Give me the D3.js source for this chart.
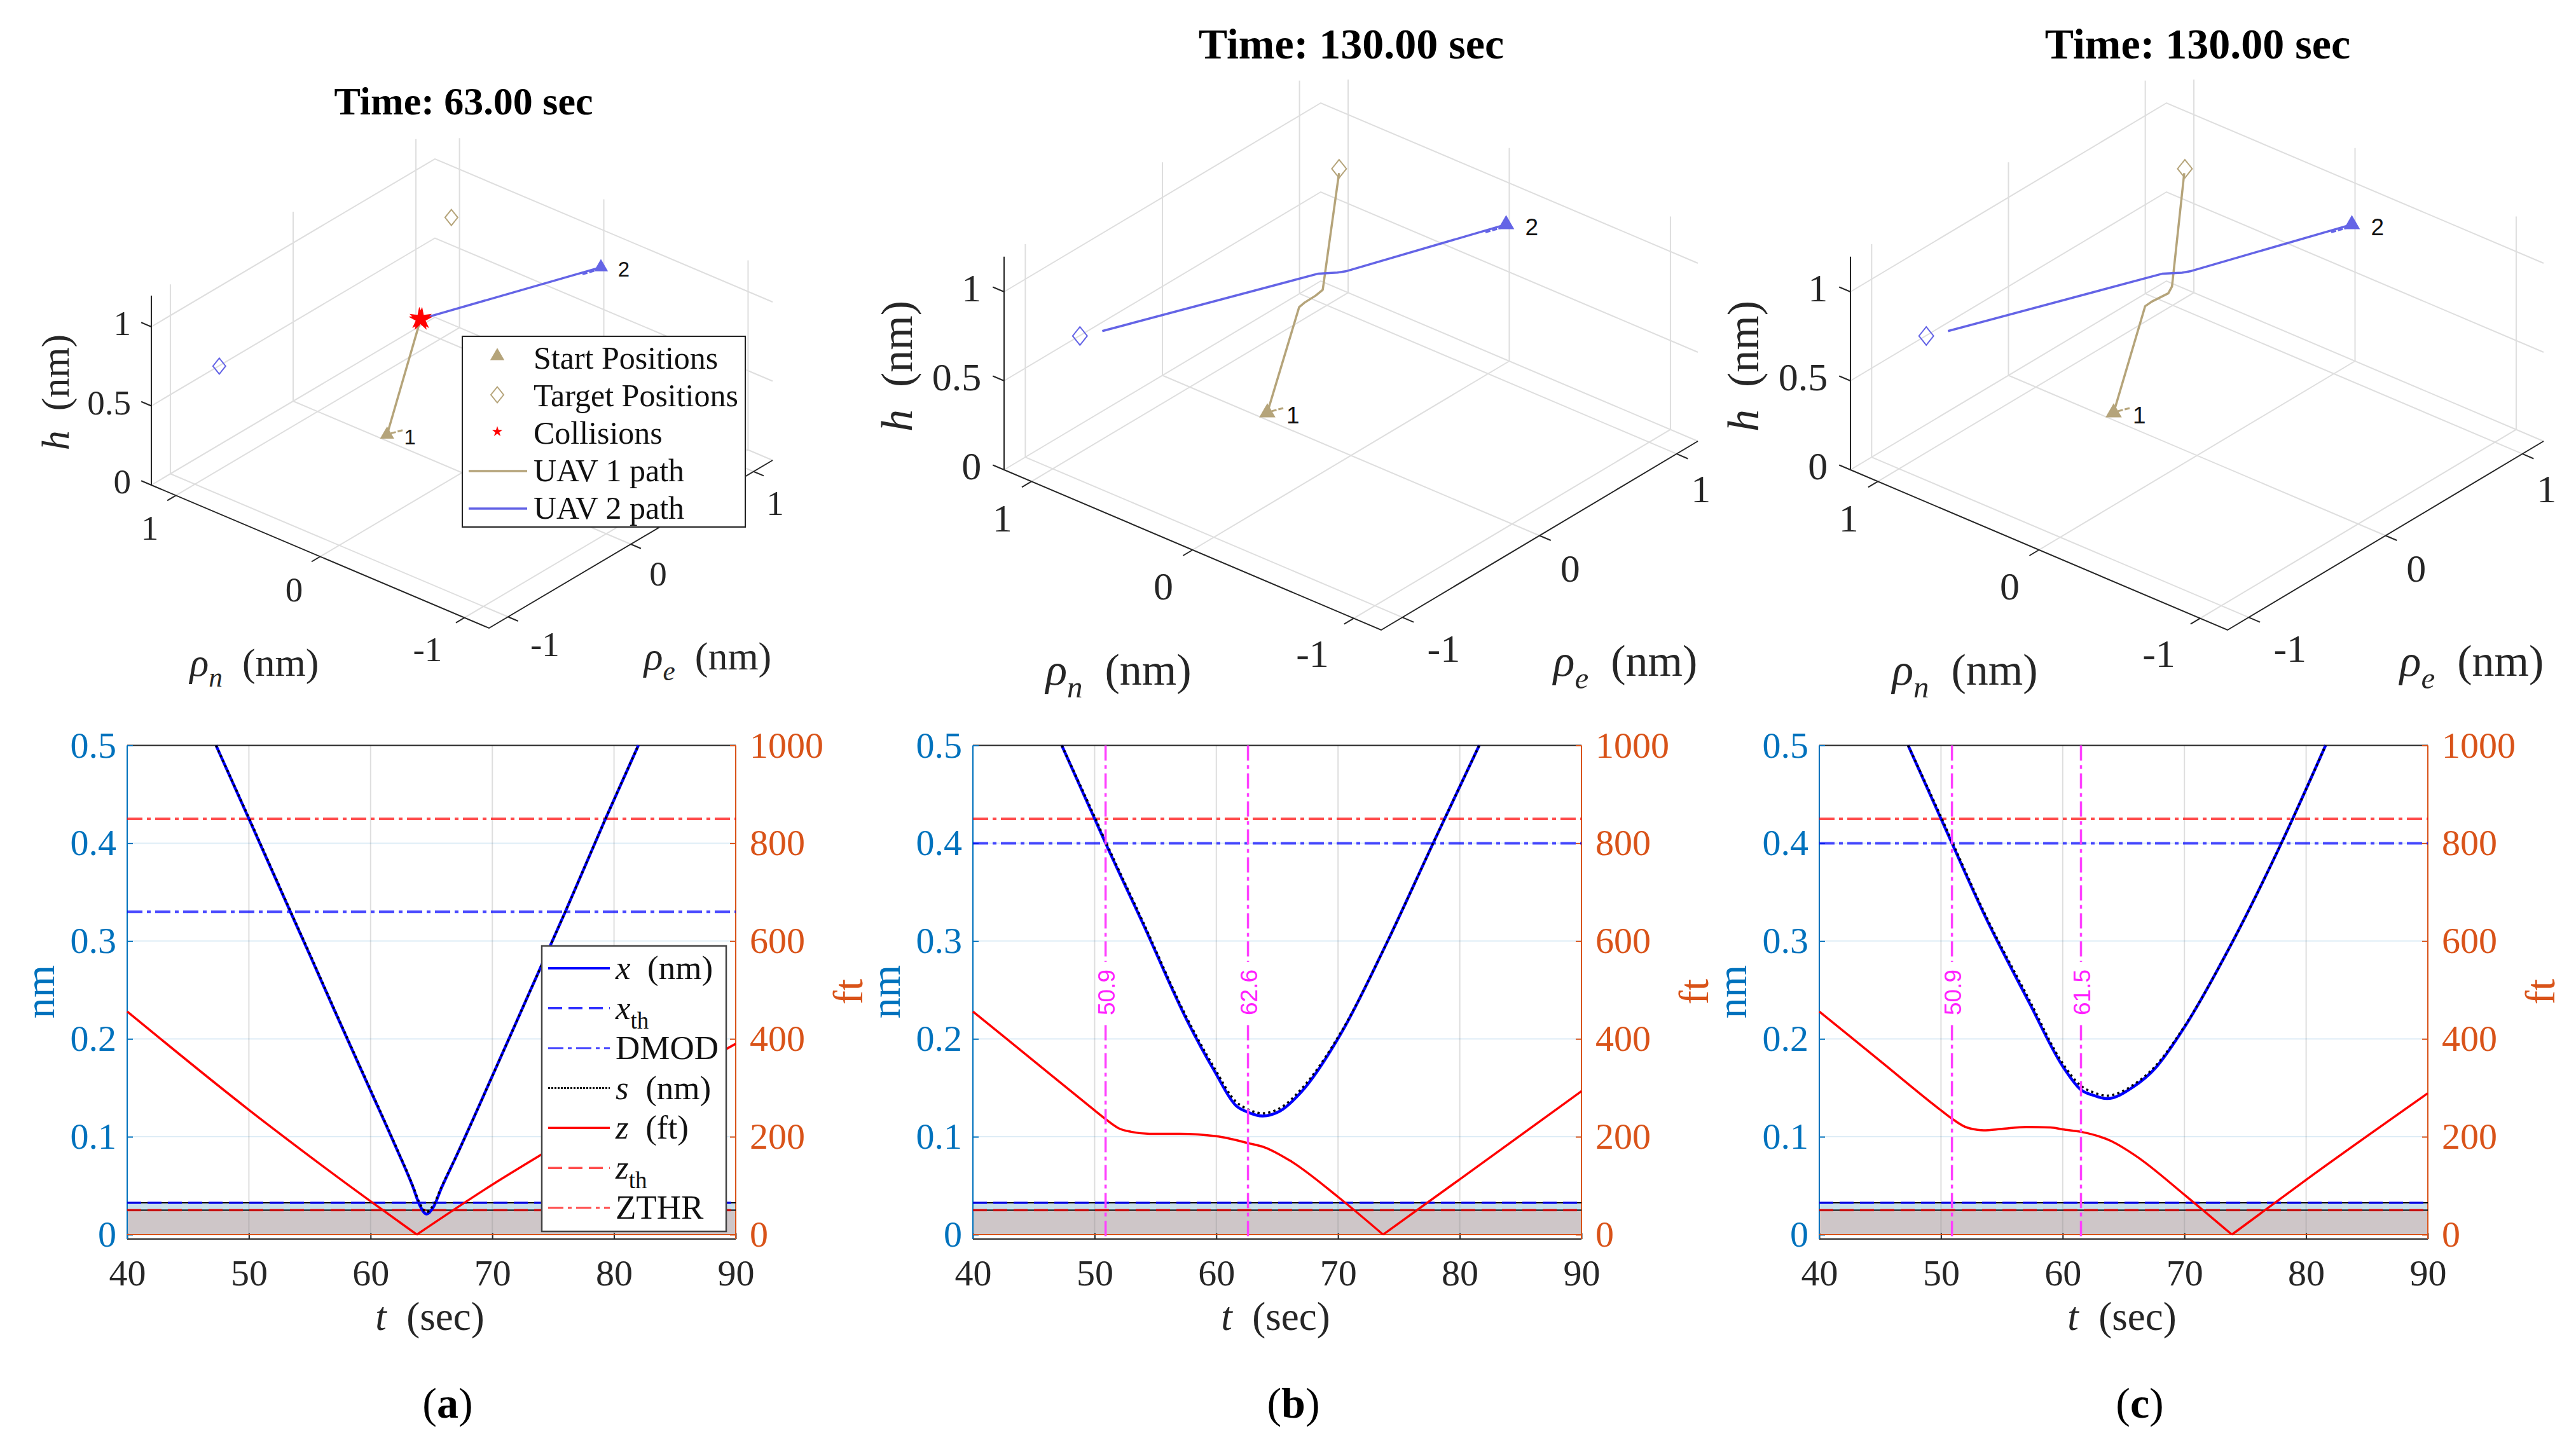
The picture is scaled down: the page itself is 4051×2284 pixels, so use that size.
<!DOCTYPE html>
<html>
<head>
<meta charset="utf-8">
<script src="https://d3js.org/d3.v7.min.js"></script>
<style>
  body { margin: 0; background: #fff; }
  text { font-family: "Liberation Serif", serif; }
</style>
</head>
<body>
<div id="chart"></div>
<script>
// values
const timeTicks = [40, 50, 60, 70, 80, 90];
const nmTicks = [0, 0.1, 0.2, 0.3, 0.4, 0.5];
const ftTicks = [0, 200, 400, 600, 800, 1000];
const groundTicks = [-1, 0, 1];
const heightTicks = [0, 0.5, 1];

const titles = ["Time: 63.00 sec", "Time: 130.00 sec", "Time: 130.00 sec"];
const captions = ["a", "b", "c"];

const xthValue = 0.0325;
const zthValue = 50;
const zthrValue = 850;
const dmodValues = [0.33, 0.4, 0.4];
const markerTimes = [[], [50.9, 62.6], [50.9, 61.5]];

const xTimeA = [47.3, 50, 53.3, 55, 57, 60, 62, 63.5, 64, 64.6, 65.2, 65.8, 67, 70, 73, 76, 79.3, 82];
const xValuesA = [0.5, 0.425, 0.333, 0.286, 0.23, 0.147, 0.0915, 0.048, 0.031, 0.021, 0.029, 0.047, 0.079, 0.162, 0.246, 0.33, 0.425, 0.5];
const sValuesA = [0.5, 0.426, 0.334, 0.287, 0.231, 0.148, 0.0925, 0.049, 0.033, 0.023, 0.031, 0.048, 0.079, 0.162, 0.246, 0.33, 0.425, 0.5];
const zTimeA = [40, 50, 60, 63.8, 70, 74, 90];
const zValuesA = [456, 255, 68, 0, 102, 163, 390];

const xTimeB = [47.3, 50, 50.9, 54, 57.6, 59.85, 61.6, 62.6, 63.8, 65.2, 67, 70.2, 74, 77.85, 81.6];
const xValuesB = [0.5, 0.425, 0.4, 0.317, 0.2187, 0.167, 0.132, 0.125, 0.1212, 0.126, 0.146, 0.2046, 0.298, 0.401, 0.5];
const sValuesB = [0.5, 0.427, 0.402, 0.319, 0.221, 0.17, 0.136, 0.128, 0.124, 0.129, 0.149, 0.206, 0.298, 0.401, 0.5];
const zTimeB = [40, 45, 50, 50.9, 52, 53, 54.5, 57, 60, 62.6, 64, 66, 70, 73.7, 80, 90];
const zValuesB = [456, 355, 254, 236, 217, 210, 206, 206, 201, 187, 178, 152, 77, 0, 113, 293];

const xTimeC = [47.3, 50, 50.9, 53.6, 57.25, 60, 61.5, 62.6, 63.65, 65.8, 67.6, 69.85, 73.9, 78, 81.6];
const xValuesC = [0.5, 0.425, 0.4, 0.326, 0.237, 0.172, 0.148, 0.142, 0.139, 0.151, 0.17, 0.209, 0.298, 0.401, 0.5];
const sValuesC = [0.5, 0.427, 0.402, 0.328, 0.24, 0.175, 0.152, 0.145, 0.142, 0.153, 0.172, 0.21, 0.298, 0.401, 0.5];
const zTimeC = [40, 45, 50, 50.9, 52, 53, 53.5, 55, 57, 59, 60, 61.5, 64, 66, 70, 73.9, 80, 90];
const zValuesC = [456, 355, 254, 237, 220, 214, 213, 216, 220, 219, 215, 210, 191, 161, 81.5, 0, 112, 289];

// [north, east, height] in nm
const startOne = [-0.302, -0.965, 0.8];
const targetOne = [0.92, 0.995, 0.8];
const startTwo = [-0.0236, 1.104, 0.8];
const targetTwo = [0.843, -0.986, 0.8];
const collisionPoint = [0.351, 0.076, 0.8];

const pathOneA = [startOne, collisionPoint];
const pathTwoA = [startTwo, collisionPoint];
const pathOneB = [startOne, [0.224, -0.1145, 0.8], [0.232, -0.065, 0.8], [0.234, 0.017, 0.8], [0.244, 0.081, 0.8], [0.894, 0.964, 0.8]];
const pathTwoB = [startTwo, [0.273, 0.282, 0.8], [0.295, 0.248, 0.8], [0.358, 0.183, 0.8], [0.792, -0.883, 0.8]];
const pathOneC = [startOne, [0.23, -0.108, 0.8], [0.2335, -0.055, 0.8], [0.224, 0.054, 0.8], [0.252, 0.114, 0.8], [0.896, 0.962, 0.8]];
const pathTwoC = [startTwo, [0.279, 0.277, 0.8], [0.3, 0.243, 0.8], [0.364, 0.178, 0.8], [0.794, -0.885, 0.8]];

const groundLimit = { n: 1.17, e: 1.155, h: 1.197 };

const TAN = "#B5A47A";
const UAV_BLUE = "#6464E6";
const AXIS_BLUE = "#0072BD";
const AXIS_ORANGE = "#D95319";
const INK = "#262626";
const MAGENTA = "#FF40FF";

const W = 4051, H = 2284;
const svg = d3.select("#chart").append("svg").attr("width", W).attr("height", H)
  .style("display", "block");

// text with italics and subscripts, parts are [string, style]
function richText(sel, parts, subSize) {
  let pendingDy = 0;
  parts.forEach(([str, style]) => {
    const t = sel.append("tspan").text(str);
    if (style === "i") t.attr("font-style", "italic");
    if (style === "b") t.attr("font-weight", "bold");
    if (style === "si" || style === "s") {
      t.attr("font-size", subSize).attr("dy", subSize * 0.4);
      if (style === "si") t.attr("font-style", "italic");
      pendingDy = -subSize * 0.4;
    } else if (pendingDy) {
      t.attr("dy", pendingDy);
      pendingDy = 0;
    }
  });
  return sel;
}

/* ---------- 3D panels ---------- */
const groundPanels = [
  { L: [238, 763], B: [769, 988], R: [1215, 724], zUnit: 249, k: 1, titleX: 729, titleY: 180, titleSize: 62,
    tick: 55, label: 62, hX: 87, hY: 617, nX: 400, nY: 1063, eX: 1113, eY: 1053, mark: 1,
    one: pathOneA, two: pathTwoA, collision: true },
  { L: [1579, 739], B: [2172, 991], R: [2670, 694], zUnit: 280, k: 1.12, titleX: 2125, titleY: 92, titleSize: 68,
    tick: 62, label: 70, hX: 1410, hY: 576, nX: 1759, nY: 1077, eX: 2556, eY: 1063, mark: 1.15,
    one: pathOneB, two: pathTwoB, collision: false },
  { L: [2910, 739], B: [3503, 991], R: [4000, 694], zUnit: 280, k: 1.12, titleX: 3456, titleY: 92, titleSize: 68,
    tick: 62, label: 70, hX: 2741, hY: 576, nX: 3090, nY: 1077, eX: 3887, eY: 1063, mark: 1.15,
    one: pathOneC, two: pathTwoC, collision: false }
];

function makeProjection(p) {
  const nx = d3.scaleLinear([groundLimit.n, -groundLimit.n], [p.L[0], p.B[0]]);
  const ny = d3.scaleLinear([groundLimit.n, -groundLimit.n], [p.L[1], p.B[1]]);
  const ex = d3.scaleLinear([-groundLimit.e, groundLimit.e], [0, p.R[0] - p.B[0]]);
  const ey = d3.scaleLinear([-groundLimit.e, groundLimit.e], [0, p.R[1] - p.B[1]]);
  const hy = d3.scaleLinear([0, 1], [0, -p.zUnit]);
  return ([n, e, h]) => [nx(n) + ex(e), ny(n) + ey(e) + hy(h)];
}

const pathLine = d3.line();
const DIAMOND = [[0, -12.5], [10, 0], [0, 12.5], [-10, 0]];

function drawGround(p, i) {
  const g = svg.append("g").attr("class", "ground-panel");
  const proj = makeProjection(p);
  const nMax = groundLimit.n, eMax = groundLimit.e, hMax = groundLimit.h;

  const grid = pts => g.append("path").attr("d", pathLine(pts.map(proj)))
    .attr("fill", "none").attr("stroke", "#DEDEDE").attr("stroke-width", 2);

  // back walls and floor
  [0, 0.5, 1].forEach(h => {
    grid([[nMax, -eMax, h], [nMax, eMax, h], [-nMax, eMax, h]]);
  });
  groundTicks.forEach(e => {
    grid([[nMax, e, 0], [nMax, e, hMax]]);
    grid([[nMax, e, 0], [-nMax, e, 0]]);
  });
  groundTicks.forEach(n => {
    grid([[n, eMax, 0], [n, eMax, hMax]]);
    grid([[n, eMax, 0], [n, -eMax, 0]]);
  });

  // axes
  const axis = pts => g.append("path").attr("d", pathLine(pts.map(proj)))
    .attr("fill", "none").attr("stroke", INK).attr("stroke-width", 2);
  axis([[nMax, -eMax, hMax], [nMax, -eMax, 0], [-nMax, -eMax, 0], [-nMax, eMax, 0]]);
  groundTicks.forEach(n => axis([[n, -eMax, 0], [n, -eMax - 0.07, 0]]));
  groundTicks.forEach(e => axis([[-nMax, e, 0], [-nMax - 0.07, e, 0]]));
  heightTicks.forEach(h => axis([[nMax, -eMax, h], [nMax + 0.07, -eMax, h]]));

  const tickText = (x, y, str, anchor) => g.append("text").attr("x", x).attr("y", y)
    .attr("text-anchor", anchor || "middle").attr("font-size", p.tick).attr("fill", INK).text(str);

  groundTicks.forEach(n => {
    const [x, y] = proj([n, -eMax, 0]);
    const off = n < 0 ? [-58, 68] : [-41, 70];
    tickText(x + off[0] * p.k, y + off[1] * p.k, String(n));
  });
  groundTicks.forEach(e => {
    const [x, y] = proj([-nMax, e, 0]);
    const off = e < 0 ? [58, 62] : (e === 0 ? [43, 65] : [34, 68]);
    tickText(x + off[0] * p.k, y + off[1] * p.k, String(e));
  });
  heightTicks.forEach(h => {
    const [x, y] = proj([nMax, -eMax, h]);
    tickText(x - 32 * p.k, y + 13 * p.k, String(h), "end");
  });

  // axis labels
  richText(g.append("text").attr("text-anchor", "middle").attr("font-size", p.label).attr("fill", INK)
    .attr("transform", `translate(${p.hX},${p.hY}) rotate(-90)`).attr("dominant-baseline", "central")
    .attr("xml:space", "preserve"),
    [["h", "i"], ["  (nm)", ""]], p.label * 0.7);
  richText(g.append("text").attr("x", p.nX).attr("y", p.nY).attr("text-anchor", "middle")
    .attr("font-size", p.label).attr("fill", INK).attr("xml:space", "preserve"),
    [["ρ", "i"], ["n", "si"], ["  (nm)", ""]], p.label * 0.7);
  richText(g.append("text").attr("x", p.eX).attr("y", p.eY).attr("text-anchor", "middle")
    .attr("font-size", p.label).attr("fill", INK).attr("xml:space", "preserve"),
    [["ρ", "i"], ["e", "si"], ["  (nm)", ""]], p.label * 0.7);

  // title
  g.append("text").attr("x", p.titleX).attr("y", p.titleY).attr("text-anchor", "middle")
    .attr("font-size", p.titleSize).attr("font-weight", "bold").attr("fill", "#000").text(titles[i]);

  // flight paths
  [[p.one, TAN], [p.two, UAV_BLUE]].forEach(([pts, col]) => {
    g.append("path").attr("d", pathLine(pts.map(proj))).attr("fill", "none")
      .attr("stroke", col).attr("stroke-width", 3.5).attr("stroke-linejoin", "round");
  });

  // start and target markers
  const tri = d3.symbol(d3.symbolTriangle, 215 * p.mark * p.mark);
  const dia = d3.line().curve(d3.curveLinearClosed)(DIAMOND.map(d => [d[0] * p.mark, d[1] * p.mark]));
  [[startOne, targetOne, TAN, "1"], [startTwo, targetTwo, UAV_BLUE, "2"]].forEach(([s, t, col, name]) => {
    const sp = proj(s), tp = proj(t);
    g.append("path").attr("d", tri()).attr("fill", col).attr("transform", `translate(${sp[0]},${sp[1]})`);
    g.append("path").attr("d", dia).attr("fill", "none").attr("stroke", col).attr("stroke-width", 2)
      .attr("transform", `translate(${tp[0]},${tp[1]})`);
    const dashPts = name === "1" ? [[6, -2], [25, -7]] : [[-29, 11], [-8, 5]];
    g.append("path").attr("d", pathLine(dashPts.map(d => [sp[0] + d[0] * p.k, sp[1] + d[1] * p.k])))
      .attr("fill", "none").attr("stroke", col).attr("stroke-width", 3).attr("stroke-dasharray", "8 3");
    g.append("text").attr("x", sp[0] + 36 * p.k).attr("y", sp[1] + 15 * p.k).attr("text-anchor", "middle")
      .attr("font-size", 33 * p.k).attr("fill", "#111").style("font-family", "'Liberation Sans'").text(name);
  });

  if (p.collision) {
    const cp = proj(collisionPoint);
    [-7, 7].forEach(a => {
      g.append("path").attr("d", d3.symbol(d3.symbolStar, 420)()).attr("fill", "#FF0000")
        .attr("transform", `translate(${cp[0]},${cp[1]}) rotate(${a})`);
    });
    drawGroundLegend(g);
  }
}

function drawGroundLegend(g) {
  g.append("rect").attr("x", 727).attr("y", 529).attr("width", 445).attr("height", 300)
    .attr("fill", "#fff").attr("stroke", "#222").attr("stroke-width", 2);
  const rows = ["Start Positions", "Target Positions", "Collisions", "UAV 1 path", "UAV 2 path"];
  const rowScale = d3.scalePoint(rows, [564, 800]);
  rows.forEach(r => {
    g.append("text").attr("x", 839).attr("y", rowScale(r) + 16).attr("font-size", 50)
      .attr("fill", "#111").text(r);
  });
  g.append("path").attr("d", d3.symbol(d3.symbolTriangle, 215)()).attr("fill", TAN)
    .attr("transform", `translate(782,${rowScale(rows[0]) - 4})`);
  g.append("path").attr("d", d3.line().curve(d3.curveLinearClosed)(DIAMOND)).attr("fill", "none")
    .attr("stroke", TAN).attr("stroke-width", 2).attr("transform", `translate(782,${rowScale(rows[1]) - 2})`);
  g.append("path").attr("d", d3.symbol(d3.symbolStar, 85)()).attr("fill", "#FF0000")
    .attr("transform", `translate(782,${rowScale(rows[2]) - 3})`);
  [[rows[3], TAN], [rows[4], UAV_BLUE]].forEach(([r, col]) => {
    g.append("line").attr("x1", 737).attr("x2", 829).attr("y1", rowScale(r)).attr("y2", rowScale(r))
      .attr("stroke", col).attr("stroke-width", 3.5);
  });
}

/* ---------- time panels ---------- */
const timePanels = [
  { left: 200, xT: xTimeA, x: xValuesA, s: sValuesA, zT: zTimeA, z: zValuesA, legend: true },
  { left: 1530, xT: xTimeB, x: xValuesB, s: sValuesB, zT: zTimeB, z: zValuesB },
  { left: 2861, xT: xTimeC, x: xValuesC, s: sValuesC, zT: zTimeC, z: zValuesC }
];
const PLOT_W = 957, PLOT_TOP = 1172.5, PLOT_ZERO = 1942, PLOT_BOTTOM = 1949;

const DASH_STYLE = { dash: "22 10", dashdot: "24 7 6 7", dot: "3.5 5" };

function drawTime(p, i) {
  const g = svg.append("g").attr("class", "time-panel");
  const right = p.left + PLOT_W;
  const x = d3.scaleLinear([40, 90], [p.left, right]);
  const yNm = d3.scaleLinear([0, 0.5], [PLOT_ZERO, PLOT_TOP]);
  const yFt = d3.scaleLinear([0, 1000], [PLOT_ZERO, PLOT_TOP]);

  // threshold bands
  g.append("rect").attr("x", p.left).attr("width", PLOT_W).attr("y", yNm(xthValue))
    .attr("height", yNm(0) - yNm(xthValue)).attr("fill", "#C7DFEC");
  g.append("rect").attr("x", p.left).attr("width", PLOT_W).attr("y", yFt(zthValue))
    .attr("height", yFt(0) - yFt(zthValue)).attr("fill", "#CEC6C8");

  // grid
  timeTicks.slice(1, -1).forEach(t => {
    g.append("line").attr("x1", x(t)).attr("x2", x(t)).attr("y1", PLOT_TOP).attr("y2", PLOT_BOTTOM)
      .attr("stroke", "#8A8A8A").attr("stroke-opacity", 0.28).attr("stroke-width", 2);
  });
  nmTicks.slice(1, -1).forEach(v => {
    g.append("line").attr("x1", p.left).attr("x2", right).attr("y1", yNm(v)).attr("y2", yNm(v))
      .attr("stroke", AXIS_BLUE).attr("stroke-opacity", 0.13).attr("stroke-width", 2);
  });

  // box top and bottom
  [PLOT_TOP, PLOT_BOTTOM].forEach(y => {
    g.append("line").attr("x1", p.left).attr("x2", right).attr("y1", y).attr("y2", y)
      .attr("stroke", INK).attr("stroke-width", 2.2);
  });

  // axes
  const axisB = d3.axisBottom(x).tickValues(timeTicks).tickFormat(String).tickSizeInner(-9).tickSizeOuter(0).tickPadding(32);
  const axisL = d3.axisLeft(yNm).tickValues(nmTicks).tickFormat(String).tickSizeInner(-9).tickSizeOuter(0).tickPadding(17);
  const axisR = d3.axisRight(yFt).tickValues(ftTicks).tickFormat(String).tickSizeInner(-9).tickSizeOuter(0).tickPadding(22);

  const styleAxis = (sel, col) => {
    sel.selectAll("text").attr("fill", col).style("font-size", "58px").style("font-family", "'Liberation Serif'");
    sel.selectAll("line").attr("stroke", col).attr("stroke-width", 2);
    sel.select(".domain").attr("stroke", col).attr("stroke-width", 2);
  };
  const bottomAxis = g.append("g").attr("transform", `translate(0,${PLOT_BOTTOM})`).call(axisB);
  styleAxis(bottomAxis, INK);
  bottomAxis.select(".domain").remove();
  const leftAxis = g.append("g").attr("transform", `translate(${p.left},0)`).call(axisL);
  styleAxis(leftAxis, AXIS_BLUE);
  leftAxis.select(".domain").attr("d", `M0,${PLOT_TOP}V${PLOT_BOTTOM}`);
  const rightAxis = g.append("g").attr("transform", `translate(${right},0)`).call(axisR);
  styleAxis(rightAxis, AXIS_ORANGE);
  rightAxis.select(".domain").attr("d", `M0,${PLOT_TOP}V${PLOT_BOTTOM}`);

  // orange edge at zero, threshold lines
  g.append("line").attr("x1", p.left).attr("x2", right).attr("y1", PLOT_ZERO).attr("y2", PLOT_ZERO)
    .attr("stroke", AXIS_ORANGE).attr("stroke-width", 2);
  const hLine = (y, col, w, dash, op) => g.append("line").attr("x1", p.left).attr("x2", right)
    .attr("y1", y).attr("y2", y).attr("stroke", col).attr("stroke-width", w)
    .attr("stroke-dasharray", dash).attr("stroke-opacity", op || 1);
  hLine(yNm(xthValue), "#000", 2);
  hLine(yFt(zthValue), "#000", 2);
  hLine(yNm(xthValue), "#0000FF", 3.5, DASH_STYLE.dash, 0.85);
  hLine(yFt(zthValue), "#FF0000", 3.5, DASH_STYLE.dash, 0.7);
  hLine(yNm(dmodValues[i]), "#0000FF", 4, DASH_STYLE.dashdot, 0.7);
  hLine(yFt(zthrValue), "#FF0000", 4, DASH_STYLE.dashdot, 0.7);

  // curves, altitude is split at its zero so the V keeps a sharp point
  const rangeLine = d3.line().curve(d3.curveMonotoneX).x(d => x(d[0])).y(d => yNm(d[1]));
  const altLine = d3.line().curve(d3.curveMonotoneX).x(d => x(d[0])).y(d => yFt(d[1]));
  const altPoints = d3.zip(p.zT, p.z);
  const lowest = d3.leastIndex(p.z);
  [altPoints.slice(0, lowest + 1), altPoints.slice(lowest)].forEach(part => {
    g.append("path").attr("d", altLine(part)).attr("fill", "none")
      .attr("stroke", "#FF0000").attr("stroke-width", 3.5);
  });
  g.append("path").attr("d", rangeLine(d3.zip(p.xT, p.x))).attr("fill", "none")
    .attr("stroke", "#0000FF").attr("stroke-width", 4.5);
  g.append("path").attr("d", rangeLine(d3.zip(p.xT, p.s))).attr("fill", "none")
    .attr("stroke", "#000").attr("stroke-width", 3.5).attr("stroke-dasharray", DASH_STYLE.dot);

  // alert markers with rotated labels
  markerTimes[i].forEach(t => {
    g.append("line").attr("x1", x(t)).attr("x2", x(t)).attr("y1", PLOT_TOP).attr("y2", PLOT_BOTTOM)
      .attr("stroke", MAGENTA).attr("stroke-width", 3.5).attr("stroke-dasharray", DASH_STYLE.dashdot);
    g.append("rect").attr("x", x(t) - 14).attr("width", 30).attr("y", 1513).attr("height", 95).attr("fill", "#fff");
    g.append("text").attr("transform", `translate(${x(t) + 2},1561) rotate(-90)`)
      .attr("text-anchor", "middle").attr("dominant-baseline", "central").attr("font-size", 37)
      .attr("fill", "#FF20FF").style("font-family", "'Liberation Sans'").text(t.toFixed(1));
  });

  // axis titles
  g.append("text").attr("transform", `translate(${p.left - 138},1560) rotate(-90)`).attr("text-anchor", "middle")
    .attr("dominant-baseline", "central").attr("font-size", 66).attr("fill", AXIS_BLUE).text("nm");
  g.append("text").attr("transform", `translate(${right + 176},1560) rotate(-90)`).attr("text-anchor", "middle")
    .attr("dominant-baseline", "central").attr("font-size", 66).attr("fill", AXIS_ORANGE).text("ft");
  richText(g.append("text").attr("x", p.left + 476).attr("y", 2092).attr("text-anchor", "middle")
    .attr("font-size", 63).attr("fill", INK).attr("xml:space", "preserve"),
    [["t", "i"], ["  (sec)", ""]], 44);

  // caption
  richText(g.append("text").attr("x", p.left + 504).attr("y", 2230).attr("text-anchor", "middle")
    .attr("font-size", 68).attr("fill", "#000"),
    [["(", ""], [captions[i], "b"], [")", ""]], 48);

  if (p.legend) drawTimeLegend(g);
}

function drawTimeLegend(g) {
  g.append("rect").attr("x", 852).attr("y", 1488).attr("width", 290).attr("height", 449)
    .attr("fill", "#fff").attr("stroke", "#444").attr("stroke-width", 2.5);
  const rows = [
    { parts: [["x", "i"], ["  (nm)", ""]], col: "#0000FF", dash: null, w: 4 },
    { parts: [["x", "i"], ["th", "s"]], col: "#0000FF", dash: DASH_STYLE.dash, w: 3.5, op: 0.8 },
    { parts: [["DMOD", ""]], col: "#0000FF", dash: DASH_STYLE.dashdot, w: 3, op: 0.7 },
    { parts: [["s", "i"], ["  (nm)", ""]], col: "#000", dash: "3 2", w: 3 },
    { parts: [["z", "i"], ["  (ft)", ""]], col: "#FF0000", dash: null, w: 3.5 },
    { parts: [["z", "i"], ["th", "s"]], col: "#FF0000", dash: DASH_STYLE.dash, w: 3.5, op: 0.7 },
    { parts: [["ZTHR", ""]], col: "#FF0000", dash: DASH_STYLE.dashdot, w: 3, op: 0.7 }
  ];
  const rowScale = d3.scalePoint(d3.range(rows.length), [1523, 1900]);
  rows.forEach((r, k) => {
    const y = rowScale(k);
    g.append("line").attr("x1", 862).attr("x2", 959).attr("y1", y).attr("y2", y)
      .attr("stroke", r.col).attr("stroke-width", r.w).attr("stroke-dasharray", r.dash)
      .attr("stroke-opacity", r.op || 1);
    richText(g.append("text").attr("x", 968).attr("y", y + 17).attr("font-size", 53)
      .attr("fill", "#111").attr("xml:space", "preserve"), r.parts, 37);
  });
}

groundPanels.forEach(drawGround);
timePanels.forEach(drawTime);
</script>
</body>
</html>
